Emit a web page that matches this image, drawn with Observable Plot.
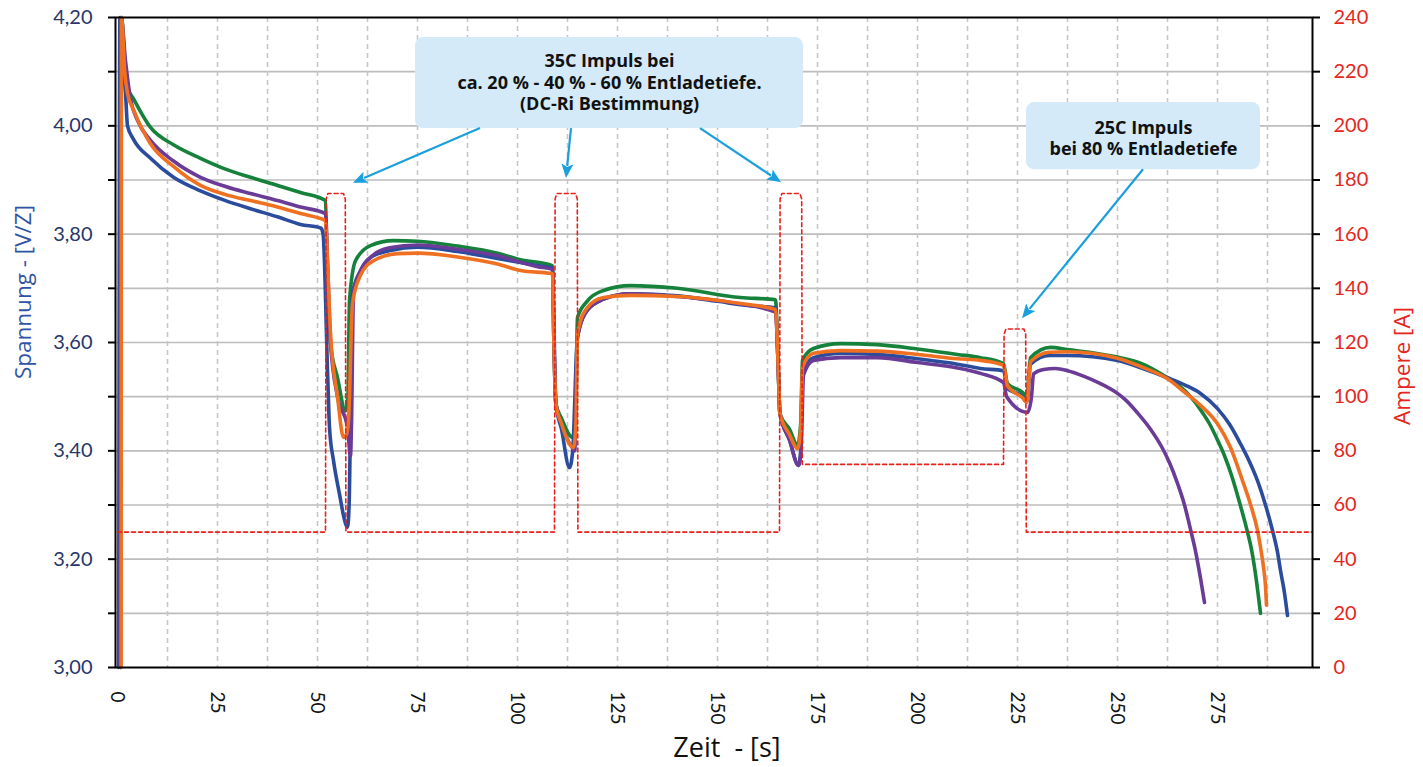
<!DOCTYPE html>
<html><head><meta charset="utf-8">
<script src="https://cdn.jsdelivr.net/npm/d3@7"></script>
<script src="https://cdn.jsdelivr.net/npm/@observablehq/plot@0.6"></script>
<style>body{margin:0;background:#fff} svg{display:block}</style>
</head><body><div id="chart"></div>
<script>
// ---- data (time in s, voltage in V/Z, current in A) ----
const tBlue = [0.3,0.6,1.5,2,2.5,4,8.25,14,20.75,27,33.25,40,45.75,50.9,51.4,52.5,53,54,55.5,57,57.5,57.9,58.75,60.75,63.25,68.25,75,85,95,105,108.75,109.2,109.6,111,113,113.8,115,117.5,121.5,128,140,150,158,164.5,165.2,165.6,168,170.25,170.8,171.25,174,180.75,190,200,210,215.75,221.5,222.5,226.25,227.3,228.3,233,237.5,250,256,262.5,267,270.75,275,278,280.75,283,285,287,288.75,290,290.75,291.7,292.5];
const vBlue = [3.0,4.2,4.1,4.06,4.0,3.975,3.94,3.905,3.88,3.862,3.847,3.832,3.818,3.811,3.80,3.55,3.443,3.382,3.32,3.266,3.259,3.30,3.69,3.733,3.757,3.77,3.776,3.768,3.755,3.742,3.737,3.60,3.487,3.44,3.369,3.40,3.61,3.66,3.68,3.69,3.686,3.676,3.668,3.664,3.55,3.469,3.42,3.373,3.40,3.545,3.572,3.58,3.578,3.57,3.56,3.552,3.548,3.515,3.50,3.49,3.56,3.576,3.576,3.567,3.553,3.535,3.521,3.506,3.478,3.449,3.413,3.38,3.345,3.30,3.253,3.213,3.179,3.14,3.096];

const tGreen = [0.8,1,2,2.6,4,8.25,14,20.75,27,33.25,40,45.75,52,52.4,53.25,55,57,57.6,58,59.5,63.25,69,75,85,95,100.75,108.75,109.1,109.6,111,113.75,114.5,115,117.5,121.5,128.25,140,155.75,164.5,165.2,165.6,168,170,170.8,171.25,174,180.75,190,200,210,215.75,221.5,222.5,226.25,227.3,228.25,233.25,237.5,250,255.75,262.5,265.5,268.25,270.75,273,275,276.8,278.5,280.5,282.5,283.5,284.25,285,285.75];
const vGreen = [3.0,4.2,4.1,4.07,4.05,3.997,3.965,3.94,3.92,3.905,3.89,3.877,3.862,3.75,3.598,3.535,3.474,3.50,3.677,3.751,3.779,3.788,3.787,3.778,3.765,3.753,3.742,3.60,3.487,3.46,3.425,3.46,3.646,3.677,3.696,3.705,3.70,3.683,3.679,3.55,3.469,3.44,3.41,3.45,3.567,3.589,3.598,3.596,3.588,3.578,3.572,3.561,3.524,3.508,3.50,3.572,3.591,3.587,3.573,3.562,3.535,3.52,3.50,3.476,3.45,3.42,3.39,3.355,3.305,3.25,3.218,3.185,3.145,3.10];

const tPurple = [0.7,0.9,2,3.25,5,8.25,14,20.75,27,33.25,40,45.75,52,52.5,53.25,55,57.5,58.25,58.5,59,61,64,68,75,85,95,105,108.75,109.1,109.6,111,113.75,114.3,115,117.5,121.5,128,140,155,164.5,165.2,165.6,168,170.25,170.9,171.5,174,180.75,190,200,210,215.75,221.5,222.3,227.5,228.5,229,231.5,234.5,237.5,241.5,245.75,250,252,255,258.25,261,263,265,266.75,268.25,269.5,270.75,271.75];
const vPurple = [3.0,4.2,4.12,4.05,4.01,3.973,3.935,3.905,3.888,3.875,3.862,3.85,3.838,3.75,3.60,3.50,3.443,3.391,3.45,3.69,3.735,3.762,3.775,3.78,3.772,3.76,3.74,3.735,3.60,3.487,3.45,3.405,3.40,3.61,3.66,3.68,3.69,3.685,3.672,3.656,3.55,3.469,3.42,3.373,3.40,3.54,3.567,3.572,3.572,3.563,3.553,3.543,3.526,3.50,3.471,3.50,3.542,3.55,3.552,3.548,3.538,3.524,3.506,3.494,3.47,3.44,3.408,3.378,3.34,3.30,3.255,3.215,3.165,3.12];

const tOrange = [0.9,1.0,1.8,2.5,4,8.25,14,20.75,27,33.25,40,45.75,52,52.5,53.25,55,56.5,57.2,57.75,58.75,60.75,64,70,75,85,95,100.75,108.75,109.1,109.6,111,114,114.6,115,117.5,121.5,128.25,140,155.75,164.5,165.2,165.6,168,170,170.8,171.25,174,180.75,190,200,210,215.75,221.5,222.5,226.25,227.3,228.3,233,237.5,250,256,262.5,266.5,270.75,275,278.25,281.25,283.3,285,285.8,286.5,287,287.25];
const vOrange = [3.0,4.2,4.1,4.06,4.03,3.967,3.925,3.89,3.873,3.862,3.85,3.838,3.825,3.75,3.617,3.50,3.425,3.43,3.456,3.672,3.724,3.751,3.764,3.765,3.758,3.745,3.733,3.727,3.60,3.487,3.45,3.406,3.45,3.617,3.665,3.683,3.687,3.685,3.672,3.661,3.55,3.469,3.43,3.404,3.44,3.554,3.58,3.585,3.584,3.578,3.57,3.567,3.558,3.52,3.498,3.49,3.565,3.582,3.583,3.571,3.555,3.533,3.51,3.484,3.45,3.406,3.345,3.30,3.253,3.22,3.185,3.15,3.115];

const tAmp = [0,52,52.15,52.6,56.5,56.95,57.1,109.25,109.4,109.85,114.5,114.95,115.1,165.5,165.65,166.1,170.6,171.05,171.2,221.5,221.65,222.1,226.6,227.05,227.2,298.75];
const aAmp = [50,50,173,175,175,173,50,50,173,175,175,173,50,50,173,175,175,173,75,75,123,125,125,123,50,50];

// axis ticks
const voltTicks = d3.range(30, 43).map(d => d / 10);
const timeTicks = d3.range(0, 276, 25);
const timeGrid = d3.range(12.5, 298, 12.5);

// annotations
const boxes = [
  {x1: 74.5, x2: 171.5, y1: 3.995, y2: 4.163},
  {x1: 227.25, x2: 285.75, y1: 3.919, y2: 4.043}
];
const notes = [
  {x: 123, y: 4.081, text: "35C Impuls bei\nca. 20 % - 40 % - 60 % Entladetiefe.\n(DC-Ri Bestimmung)"},
  {x: 256.5, y: 3.978, text: "25C Impuls\nbei 80 % Entladetiefe"}
];
const arrows = [
  {x1: 90.75, y1: 3.995, x2: 59, y2: 3.894},
  {x1: 113.5, y1: 3.995, x2: 112.25, y2: 3.903},
  {x1: 145.75, y1: 3.995, x2: 166, y2: 3.895},
  {x1: 256.5, y1: 3.919, x2: 226.25, y2: 3.644}
];

const series = [
  {name: "green", t: tGreen, v: vGreen, color: "#16813b"},
  {name: "blue", t: tBlue, v: vBlue, color: "#2b4c9c"},
  {name: "purple", t: tPurple, v: vPurple, color: "#6a3c97"},
  {name: "orange", t: tOrange, v: vOrange, color: "#f07022"}
];
const ampToV = a => 3 + a / 200;
const ampData = tAmp.map((t, i) => ({t, a: aAmp[i]}));

const marks = [
  Plot.gridY(voltTicks.slice(1, -1), {stroke: "#bdbdbd", strokeOpacity: 1, strokeWidth: 1.6}),
  Plot.gridX(timeGrid, {stroke: "#c6c6c6", strokeOpacity: 1, strokeWidth: 1.6, strokeDasharray: "5,4"}),
  Plot.rect(boxes, {x1: "x1", x2: "x2", y1: "y1", y2: "y2", fill: "#d4eaf8", rx: 8}),
  Plot.text(notes, {x: "x", y: "y", text: "text", fontWeight: 700, fontSize: 18, lineHeight: 1.19, fill: "#111", fontFamily: "Open Sans"})
];
for (const s of series) {
  marks.push(Plot.line(s.t.map((t, i) => ({t, v: s.v[i]})), {x: "t", y: "v", stroke: s.color, strokeWidth: 3.6, curve: "monotone-x", strokeLinejoin: "round", strokeLinecap: "round"}));
}
marks.push(Plot.line(ampData, {x: "t", y: d => ampToV(d.a), stroke: "#e8211b", strokeWidth: 1.6, strokeDasharray: "4,3"}));
marks.push(Plot.frame({stroke: "#000", strokeWidth: 2}));
marks.push(Plot.axisY(voltTicks, {anchor: "left", label: null, tickSize: 7, tickPadding: 16, fontSize: 20, stroke: "#000", strokeWidth: 2, fill: "#28366a",
  tickFormat: d => (Math.round(d * 10) % 2 === 0 ? d.toFixed(2).replace(".", ",") : "")}));
marks.push(Plot.axisY(voltTicks, {anchor: "right", label: null, tickSize: 7, tickPadding: 14, fontSize: 20, stroke: "#000", strokeWidth: 2, fill: "#e52620",
  tickFormat: d => String(Math.round((d - 3) * 200))}));
marks.push(Plot.axisX(timeTicks, {anchor: "bottom", label: null, tickSize: 0, tickPadding: 24, tickRotate: 90, fontSize: 19, fill: "#111"}));

const plot = Plot.plot({
  width: 1423, height: 767,
  marginLeft: 115, marginRight: 111, marginTop: 17, marginBottom: 100,
  x: {domain: [-0.5, 298.75]},
  y: {domain: [3.0, 4.2]},
  style: {fontFamily: "Lato", background: "#fff", overflow: "visible"},
  marks
});

// annotation arrows (filled heads), positioned via the plot's scales
const sx = plot.scale("x"), sy = plot.scale("y");
const svg = d3.select(plot);
const g = svg.append("g");
for (const a of arrows) {
  const x1 = sx.apply(a.x1), y1 = sy.apply(a.y1), x2 = sx.apply(a.x2), y2 = sy.apply(a.y2);
  const dx = x2 - x1, dy = y2 - y1, len = Math.hypot(dx, dy), ux = dx / len, uy = dy / len;
  const L = 14, W = 6;
  const bx = x2 - ux * L, by = y2 - uy * L;
  g.append("line").attr("x1", x1).attr("y1", y1).attr("x2", bx + ux * 2).attr("y2", by + uy * 2)
    .attr("stroke", "#1aa0dd").attr("stroke-width", 2.2);
  g.append("path").attr("d", `M${x2},${y2}L${bx - uy * W},${by + ux * W}L${bx + ux * 3},${by + uy * 3}L${bx + uy * W},${by - ux * W}Z`)
    .attr("fill", "#1aa0dd");
}
// axis titles
svg.append("text").attr("transform", "translate(22,292) rotate(-90)").attr("text-anchor", "middle").attr("dominant-baseline", "central")
  .attr("font-size", 22.5).attr("fill", "#2f54a6").attr("font-family", "Open Sans").text("Spannung - [V/Z]");
svg.append("text").attr("transform", "translate(1401,366) rotate(-90)").attr("text-anchor", "middle").attr("dominant-baseline", "central")
  .attr("font-size", 22.5).attr("fill", "#e52620").attr("font-family", "Open Sans").text("Ampere [A]");
svg.append("text").attr("x", 727).attr("y", 757).attr("text-anchor", "middle").attr("font-size", 27).attr("fill", "#111")
  .attr("font-family", "Open Sans").style("white-space", "pre").text("Zeit  - [s]");

document.getElementById("chart").appendChild(plot);
</script></body></html>
